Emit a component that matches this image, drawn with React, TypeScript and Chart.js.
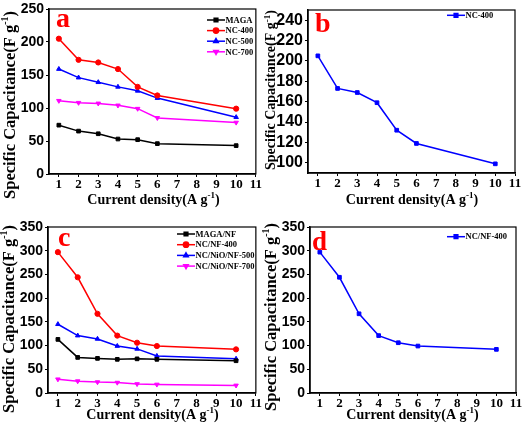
import React, { useEffect, useRef } from "react";
import { Chart, registerables } from "chart.js";
import { drawPoint } from "chart.js/helpers";

Chart.register(...registerables);

// ---------- data ----------
const currentDensity = [1, 2, 3, 4, 5, 6, 10];
const xTickValues = [1, 2, 3, 4, 5, 6, 7, 8, 9, 10, 11];
const yTicksA = [0, 50, 100, 150, 200, 250];
const yTicksB = [100, 120, 140, 160, 180, 200, 220, 240];
const yTicksCD = [0, 50, 100, 150, 200, 250, 300, 350];

const maga = [74, 65, 61, 53, 52, 46, 43];
const nc400 = [205, 173, 169, 159, 132, 119, 99];
const nc500 = [159, 146, 139, 132, 126, 115, 86];
const nc700 = [111, 108, 107, 104, 99, 85, 78];

const magaNF = [113, 75, 73, 71, 72, 71, 68];
const ncNF400 = [297, 244, 167, 121, 106, 99, 92];
const ncNiONF500 = [145, 121, 114, 99, 93, 78, 72];
const ncNiONF700 = [29, 25, 23, 22, 19, 18, 16];

// ---------- styles ----------
const SERIF = "'Liberation Serif', 'Times New Roman', serif";
const SANS = "'Liberation Sans', Arial, sans-serif";
const BLACK = "#000000";
const RED = "#ff0000";
const BLUE = "#0000ff";
const MAGENTA = "#ff00ff";

type Series = { label: string; data: number[]; color: string; style: string; rotation?: number };
type Panel = {
  letter: string;
  pos: [number, number];
  area: { left: number; top: number; right: number; bottom: number };
  yMin: number;
  yMax: number;
  yTicks: number[];
  yTickSize: number;
  yTitleSize: number;
  yTitleCenter: [number, number];
  xTitleCenter: [number, number];
  letterPos: [number, number];
  letterSize: number;
  legend: [number, number, number];
  series: Series[];
};

const W = 262;
const H = 214;

const panels: Panel[] = [
  {
    letter: "a",
    pos: [0, 0],
    area: { left: 49, top: 8, right: 256, bottom: 174 },
    yMin: 0,
    yMax: 250,
    yTicks: yTicksA,
    yTickSize: 14,
    yTitleSize: 16.5,
    yTitleCenter: [10, 105],
    xTitleCenter: [153.5, 204],
    letterPos: [56, 27],
    letterSize: 28,
    legend: [207, 20, 10.6],
    series: [
      { label: "MAGA", data: maga, color: BLACK, style: "rect" },
      { label: "NC-400", data: nc400, color: RED, style: "circle" },
      { label: "NC-500", data: nc500, color: BLUE, style: "triangle" },
      { label: "NC-700", data: nc700, color: MAGENTA, style: "triangle", rotation: 180 },
    ],
  },
  {
    letter: "b",
    pos: [262, 0],
    area: { left: 46, top: 7, right: 253, bottom: 173 },
    yMin: 90,
    yMax: 250,
    yTicks: yTicksB,
    yTickSize: 16,
    yTitleSize: 14,
    yTitleCenter: [9, 90],
    xTitleCenter: [150, 204],
    letterPos: [53, 32],
    letterSize: 28,
    legend: [185, 15.3, 10.6],
    series: [{ label: "NC-400", data: nc400, color: BLUE, style: "rect" }],
  },
  {
    letter: "c",
    pos: [0, 214],
    area: { left: 48, top: 13, right: 256, bottom: 179 },
    yMin: 0,
    yMax: 350,
    yTicks: yTicksCD,
    yTickSize: 14,
    yTitleSize: 16.5,
    yTitleCenter: [9, 105],
    xTitleCenter: [152.5, 205],
    letterPos: [58, 32],
    letterSize: 28,
    legend: [177, 20, 10.7],
    series: [
      { label: "MAGA/NF", data: magaNF, color: BLACK, style: "rect" },
      { label: "NC/NF-400", data: ncNF400, color: RED, style: "circle" },
      { label: "NC/NiO/NF-500", data: ncNiONF500, color: BLUE, style: "triangle" },
      { label: "NC/NiO/NF-700", data: ncNiONF700, color: MAGENTA, style: "triangle", rotation: 180 },
    ],
  },
  {
    letter: "d",
    pos: [262, 214],
    area: { left: 48, top: 13, right: 254, bottom: 179 },
    yMin: 0,
    yMax: 350,
    yTicks: yTicksCD,
    yTickSize: 14,
    yTitleSize: 16.5,
    yTitleCenter: [9, 103],
    xTitleCenter: [150.5, 205],
    letterPos: [50, 36],
    letterSize: 27,
    legend: [185, 22.7, 10.6],
    series: [{ label: "NC/NF-400", data: ncNF400, color: BLUE, style: "rect" }],
  },
];

type Part = { t: string; sup?: boolean };
const yTitleParts: Part[] = [{ t: "Specific Capacitance(F g" }, { t: "-1", sup: true }, { t: ")" }];
const xTitleParts: Part[] = [{ t: "Current density(A g" }, { t: "-1", sup: true }, { t: ")" }];

function drawRich(ctx: CanvasRenderingContext2D, parts: Part[], cx: number, baseY: number, size: number) {
  const mainFont = `bold ${size}px ${SERIF}`;
  const supFont = `bold ${Math.round(size * 0.62)}px ${SERIF}`;
  const widths = parts.map((p) => {
    ctx.font = p.sup ? supFont : mainFont;
    return ctx.measureText(p.t).width;
  });
  const total = widths.reduce((a, b) => a + b, 0);
  let x = cx - total / 2;
  ctx.textAlign = "left";
  ctx.textBaseline = "alphabetic";
  parts.forEach((p, i) => {
    ctx.font = p.sup ? supFont : mainFont;
    ctx.fillText(p.t, x, p.sup ? baseY - size * 0.4 : baseY);
    x += widths[i];
  });
}

function makeDecor(panel: Panel) {
  return {
    id: "decor" + panel.letter,
    afterDraw(chart: any) {
      const ctx: CanvasRenderingContext2D = chart.ctx;
      const ca = chart.chartArea;
      ctx.save();
      // frame
      ctx.strokeStyle = BLACK;
      ctx.lineWidth = 1.2;
      ctx.strokeRect(ca.left, ca.top, ca.right - ca.left, ca.bottom - ca.top);

      // panel letter
      ctx.fillStyle = RED;
      ctx.font = `bold ${panel.letterSize}px ${SERIF}`;
      ctx.textAlign = "left";
      ctx.textBaseline = "alphabetic";
      ctx.fillText(panel.letter, panel.letterPos[0], panel.letterPos[1]);

      // legend
      const [lx, ly, rowH] = panel.legend;
      const lineLen = 18;
      chart.data.datasets.forEach((ds: any, i: number) => {
        const y = ly + i * rowH;
        ctx.strokeStyle = ds.borderColor;
        ctx.fillStyle = ds.borderColor;
        ctx.lineWidth = 1.5;
        ctx.beginPath();
        ctx.moveTo(lx, y);
        ctx.lineTo(lx + lineLen, y);
        ctx.stroke();
        drawPoint(ctx, { pointStyle: ds.pointStyle, rotation: ds.pointRotation || 0, radius: 2.6, borderWidth: 1 }, lx + lineLen / 2, y);
        ctx.fillStyle = BLACK;
        ctx.font = `bold 8.5px ${SERIF}`;
        ctx.textAlign = "left";
        ctx.textBaseline = "middle";
        ctx.fillText(ds.label, lx + lineLen + 0.5, y + 0.5);
      });

      // axis titles
      ctx.fillStyle = BLACK;
      drawRich(ctx, xTitleParts, panel.xTitleCenter[0], panel.xTitleCenter[1], 14);
      ctx.save();
      ctx.translate(panel.yTitleCenter[0], panel.yTitleCenter[1]);
      ctx.rotate(-Math.PI / 2);
      drawRich(ctx, yTitleParts, 0, panel.yTitleSize * 0.3, panel.yTitleSize);
      ctx.restore();
      ctx.restore();
    },
  };
}

function PanelChart({ panel }: { panel: Panel }) {
  const ref = useRef<HTMLCanvasElement | null>(null);
  useEffect(() => {
    if (!ref.current) return;
    const a = panel.area;
    const chart = new Chart(ref.current, {
      type: "line",
      data: {
        datasets: panel.series.map((s) => ({
          label: s.label,
          data: s.data.map((v, i) => ({ x: currentDensity[i], y: v })),
          borderColor: s.color,
          backgroundColor: s.color,
          borderWidth: 1.5,
          pointStyle: s.style as any,
          pointRotation: s.rotation || 0,
          pointRadius: 2.6,
          pointBorderWidth: 1,
          tension: 0,
          fill: false,
        })),
      },
      options: {
        animation: false,
        responsive: false,
        maintainAspectRatio: false,
        layout: { padding: { left: 0, top: a.top, right: W - a.right, bottom: 0 } },
        plugins: { legend: { display: false }, tooltip: { enabled: false } },
        scales: {
          x: {
            type: "linear",
            min: 0.5,
            max: 11,
            afterBuildTicks: (axis: any) => {
              axis.ticks = xTickValues.map((v) => ({ value: v }));
            },
            afterFit: (axis: any) => {
              axis.height = H - a.bottom;
            },
            ticks: {
              color: BLACK,
              padding: 0,
              autoSkip: false,
              maxRotation: 0,
              font: { family: SERIF, size: 13, weight: "bold", lineHeight: 1.2 },
            },
            grid: { display: true, drawOnChartArea: false, drawTicks: true, tickLength: 3, color: BLACK, lineWidth: 1 },
            border: { display: true, color: BLACK, width: 1.5 },
          },
          y: {
            type: "linear",
            min: panel.yMin,
            max: panel.yMax,
            afterBuildTicks: (axis: any) => {
              axis.ticks = panel.yTicks.map((v) => ({ value: v }));
            },
            afterFit: (axis: any) => {
              axis.width = a.left;
            },
            ticks: {
              color: BLACK,
              padding: 2,
              autoSkip: false,
              font: { family: SANS, size: panel.yTickSize, weight: "bold", lineHeight: 1 },
            },
            grid: { display: true, drawOnChartArea: false, drawTicks: true, tickLength: 3, color: BLACK, lineWidth: 1 },
            border: { display: true, color: BLACK, width: 1.5 },
          },
        },
      },
      plugins: [makeDecor(panel)],
    } as any);
    return () => chart.destroy();
  }, [panel]);
  return (
    <canvas
      ref={ref}
      width={W}
      height={H}
      style={{ position: "absolute", left: panel.pos[0], top: panel.pos[1], width: W, height: H }}
    />
  );
}

export default function App() {
  return (
    <div style={{ position: "absolute", left: 0, top: 0, width: 524, height: 428, background: "#ffffff" }}>
      {panels.map((p) => (
        <PanelChart key={p.letter} panel={p} />
      ))}
    </div>
  );
}
